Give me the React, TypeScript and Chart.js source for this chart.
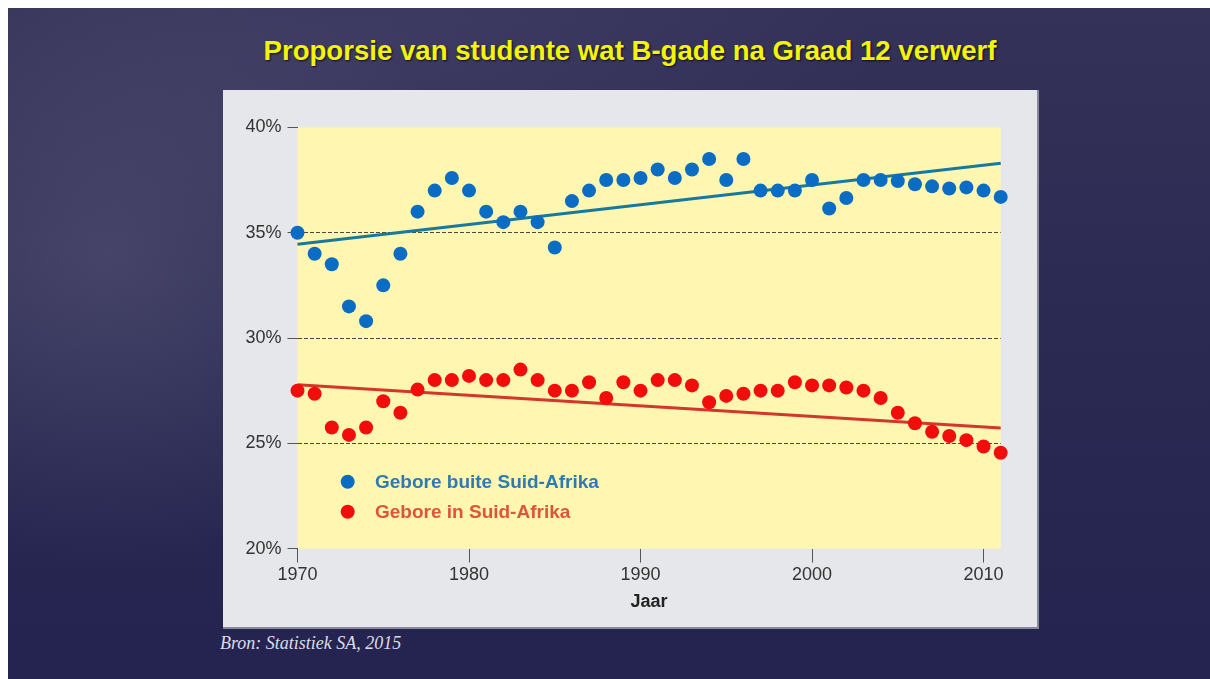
import React, { useEffect, useRef } from "react";
import { Chart, registerables } from "chart.js";

Chart.register(...registerables);

const TITLE = "Proporsie van studente wat B-gade na Graad 12 verwerf";
const SOURCE = "Bron: Statistiek SA, 2015";
const X_TITLE = "Jaar";

const YEARS = [
  1970, 1971, 1972, 1973, 1974, 1975, 1976, 1977, 1978, 1979,
  1980, 1981, 1982, 1983, 1984, 1985, 1986, 1987, 1988, 1989,
  1990, 1991, 1992, 1993, 1994, 1995, 1996, 1997, 1998, 1999,
  2000, 2001, 2002, 2003, 2004, 2005, 2006, 2007, 2008, 2009,
  2010, 2011,
];

const BUITE = [
  35.0, 34.0, 33.5, 31.5, 30.8, 32.5, 34.0, 36.0, 37.0, 37.6,
  37.0, 36.0, 35.5, 36.0, 35.5, 34.3, 36.5, 37.0, 37.5, 37.5,
  37.6, 38.0, 37.6, 38.0, 38.5, 37.5, 38.5, 37.0, 37.0, 37.0,
  37.5, 36.15, 36.65, 37.5, 37.5, 37.45, 37.3, 37.2, 37.1, 37.15,
  37.0, 36.7,
];

const IN_SA = [
  27.5, 27.35, 25.75, 25.4, 25.75, 27.0, 26.45, 27.55, 28.0, 28.0,
  28.2, 28.0, 28.0, 28.5, 28.0, 27.5, 27.5, 27.9, 27.15, 27.9,
  27.5, 28.0, 28.0, 27.75, 26.95, 27.25, 27.35, 27.5, 27.5, 27.9,
  27.75, 27.75, 27.65, 27.5, 27.15, 26.45, 25.95, 25.55, 25.35, 25.15,
  24.85, 24.55,
];

// trend line end points
const TREND_YEARS = [1970, 2011];
const TREND_BUITE = [34.45, 38.3];
const TREND_IN_SA = [27.78, 25.73];

const X_TICKS = [1970, 1980, 1990, 2000, 2010];
const Y_TICKS = [20, 25, 30, 35, 40];
const Y_GRID = [25, 30, 35];

const LABEL_BUITE = "Gebore buite Suid-Afrika";
const LABEL_IN_SA = "Gebore in Suid-Afrika";

const BLUE = "#0b6cc4";
const RED = "#f20d0d";
const BLUE_LINE = "#17799c";
const RED_LINE = "#d2372a";
const BLUE_TEXT = "#2f7ab3";
const RED_TEXT = "#e0533c";

const pts = (xs: number[], ys: number[]) => xs.map((x, i) => ({ x, y: ys[i] }));

const bgPlugin = {
  id: "yellowBg",
  beforeDraw(chart: any) {
    const { ctx, chartArea } = chart;
    ctx.save();
    ctx.fillStyle = "#fff6b2";
    ctx.fillRect(chartArea.left, chartArea.top, chartArea.right - chartArea.left, chartArea.bottom - chartArea.top);
    ctx.restore();
  },
};

const legendPlugin = {
  id: "innerLegend",
  afterDatasetsDraw(chart: any) {
    const { ctx, chartArea } = chart;
    const items = [
      { label: chart.data.datasets[0].label, dot: BLUE, text: BLUE_TEXT, dy: 354.3 },
      { label: chart.data.datasets[1].label, dot: RED, text: RED_TEXT, dy: 384.3 },
    ];
    ctx.save();
    items.forEach((it) => {
      const cy = chartArea.top + it.dy;
      ctx.beginPath();
      ctx.fillStyle = it.dot;
      ctx.arc(chartArea.left + 50.2, cy, 7, 0, Math.PI * 2);
      ctx.fill();
      ctx.fillStyle = it.text;
      ctx.font = "bold 19px 'Liberation Sans', Arial, sans-serif";
      ctx.textBaseline = "middle";
      ctx.textAlign = "left";
      ctx.fillText(it.label, chartArea.left + 77.5, cy + 1);
    });
    ctx.restore();
  },
};

export default function App() {
  const ref = useRef<HTMLCanvasElement | null>(null);

  useEffect(() => {
    if (!ref.current) return;
    const chart = new Chart(ref.current, {
      type: "scatter",
      data: {
        datasets: [
          {
            label: LABEL_BUITE,
            data: pts(YEARS, BUITE),
            backgroundColor: BLUE,
            borderWidth: 0,
            pointRadius: 7,
            order: 0,
          },
          {
            label: LABEL_IN_SA,
            data: pts(YEARS, IN_SA),
            backgroundColor: RED,
            borderWidth: 0,
            pointRadius: 7,
            order: 0,
          },
          {
            type: "line",
            label: "trend-buite",
            data: pts(TREND_YEARS, TREND_BUITE),
            borderColor: BLUE_LINE,
            borderWidth: 3,
            pointRadius: 0,
            order: 1,
          },
          {
            type: "line",
            label: "trend-in",
            data: pts(TREND_YEARS, TREND_IN_SA),
            borderColor: RED_LINE,
            borderWidth: 3,
            pointRadius: 0,
            order: 1,
          },
        ] as any,
      },
      options: {
        animation: false,
        responsive: false,
        devicePixelRatio: 1,
        clip: false as any,
        layout: { autoPadding: false, padding: { top: 37.4, right: 36.3, left: 0, bottom: 0 } },
        plugins: {
          legend: { display: false },
          tooltip: { enabled: false },
          title: { display: false },
        },
        scales: {
          x: {
            type: "linear",
            min: 1970,
            max: 2011,
            afterBuildTicks: (s: any) => {
              s.ticks = X_TICKS.map((v) => ({ value: v }));
            },
            afterFit: (s: any) => {
              s.height = 78.4;
            },
            ticks: {
              color: "#333",
              font: { size: 18, family: "'Liberation Sans', Arial, sans-serif" },
              padding: 2,
              maxRotation: 0,
              callback: (v: any) => String(v),
            },
            grid: { drawOnChartArea: false, tickLength: 14, tickColor: "#555", tickWidth: 1 },
            border: { display: false },
            title: {
              display: true,
              text: X_TITLE,
              color: "#222",
              font: { size: 18, weight: "bold", family: "'Liberation Sans', Arial, sans-serif" },
              padding: { top: 0, bottom: 14 },
            },
          },
          y: {
            min: 20,
            max: 40,
            afterBuildTicks: (s: any) => {
              s.ticks = Y_TICKS.map((v) => ({ value: v }));
            },
            afterFit: (s: any) => {
              s.width = 74.5;
            },
            ticks: {
              color: "#333",
              font: { size: 18, family: "'Liberation Sans', Arial, sans-serif" },
              padding: 6,
              callback: (v: any) => v + "%",
            },
            grid: {
              color: (c: any) => (c.tick && Y_GRID.includes(c.tick.value) ? "#4a4a40" : "rgba(0,0,0,0)"),
              lineWidth: 1,
              tickLength: 10,
              tickColor: "#555",
              tickWidth: 1,
            },
            border: { display: false, dash: [4, 2] },
          },
        },
      },
      plugins: [bgPlugin, legendPlugin],
    });
    return () => chart.destroy();
  }, []);

  return (
    <div
      style={{
        position: "fixed",
        left: 8,
        top: 8,
        width: 1230,
        height: 700,
        overflow: "hidden",
        background:
          "radial-gradient(ellipse 30% 45% at 8% 35%, rgba(100,98,130,0.45), rgba(100,98,130,0) 100%), radial-gradient(ellipse 40% 30% at 30% 5%, rgba(80,78,115,0.35), rgba(80,78,115,0) 100%), linear-gradient(180deg, #353259 0%, #2b2a52 45%, #242350 100%)",
      }}
    >
      <div
        style={{
          position: "absolute",
          left: 215,
          top: 29,
          width: 814,
          textAlign: "center",
          color: "#f4f40a",
          font: "bold 27.6px 'Liberation Sans', Arial, sans-serif",
          lineHeight: "28px",
          textShadow: "1px 1px 2px rgba(0,0,0,0.8)",
          whiteSpace: "nowrap",
        }}
      >
        {TITLE}
      </div>
      <div
        style={{
          position: "absolute",
          left: 215,
          top: 82,
          width: 814,
          height: 537,
          background: "#e5e7eb",
          borderRight: "2px solid #878994",
          borderBottom: "2px solid #878994",
        }}
      >
        <canvas ref={ref} width={814} height={537} style={{ display: "block", width: 814, height: 537 }} />
      </div>
      <div
        style={{
          position: "absolute",
          left: 212,
          top: 626,
          color: "#dcdce8",
          font: "italic 18px 'Liberation Serif', 'Times New Roman', serif",
          lineHeight: "18px",
          whiteSpace: "nowrap",
        }}
      >
        {SOURCE}
      </div>
    </div>
  );
}
